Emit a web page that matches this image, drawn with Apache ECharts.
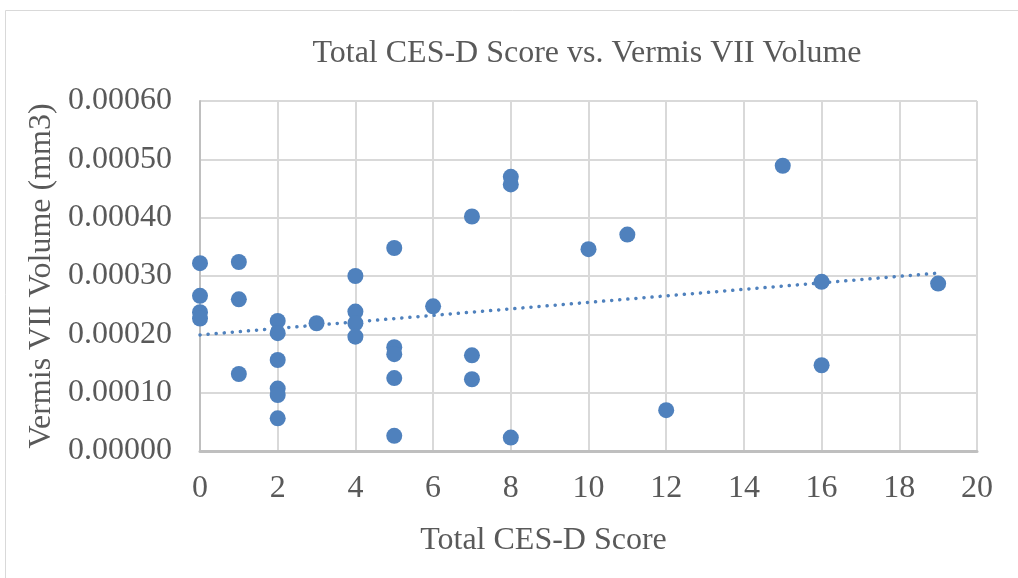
<!DOCTYPE html>
<html>
<head>
<meta charset="utf-8">
<script src="https://cdn.jsdelivr.net/npm/echarts@6/dist/echarts.min.js"></script>
<style>
  html, body { margin: 0; padding: 0; background: #fff; }
  #chart { width: 1018px; height: 578px; }
</style>
</head>
<body>
<div id="chart"></div>
<script>
// CES-D score vs Vermis VII volume (mm3)
const cesdScores = [0, 0, 0, 0, 1, 1, 1, 2, 2, 2, 2, 2, 2, 3, 4, 4, 4, 4, 5, 5, 5, 5, 5, 6, 7, 7, 7, 8, 8, 8, 10, 11, 12, 15, 16, 16, 19];
const vermisVolumes = [
  0.000322, 0.000266, 0.000238, 0.000227,
  0.000324, 0.000260, 0.000132,
  0.000223, 0.000202, 0.000156, 0.000107, 0.000096, 0.000056,
  0.000219,
  0.000300, 0.000239, 0.000219, 0.000196,
  0.000348, 0.000178, 0.000166, 0.000125, 0.000026,
  0.000248,
  0.000402, 0.000164, 0.000123,
  0.000470, 0.000457, 0.000023,
  0.000346, 0.000371, 0.000070, 0.000489, 0.000290, 0.000147, 0.000287
];
// dotted linear trendline, endpoints
const trendX = [0, 19];
const trendY = [0.000199, 0.000305];
const xTicks = [0, 2, 4, 6, 8, 10, 12, 14, 16, 18, 20];

const chart = echarts.init(document.getElementById('chart'));
const font = 'Liberation Serif, Times New Roman, serif';
const grey = '#595959';
const blue = '#4f81bd';

const points = cesdScores.map((x, i) => [x, vermisVolumes[i]]);
const trend = trendX.map((x, i) => [x, trendY[i]]);

chart.setOption({
  animation: false,
  backgroundColor: '#fff',
  title: {
    text: 'Total CES-D Score vs. Vermis VII Volume',
    left: 582,
    top: 33,
    textAlign: 'center',
    textStyle: { fontFamily: font, fontSize: 32, fontWeight: 'normal', color: grey }
  },
  graphic: [{
    type: 'rect',
    shape: { x: 5.5, y: 10.5, width: 1030, height: 600 },
    style: { fill: 'none', stroke: '#d9d9d9', lineWidth: 1 },
    silent: true
  }],
  grid: { left: 200, right: 41, top: 101, bottom: 127 },
  xAxis: {
    type: 'value',
    min: 0,
    max: 20,
    interval: 2,
    name: 'Total CES-D Score',
    nameLocation: 'middle',
    nameGap: 74,
    // the axis title sits left of the plot centre in the original
    nameTextStyle: { fontFamily: font, fontSize: 32, color: grey, padding: [0, 90, 0, 0] },
    axisLine: { show: true, lineStyle: { color: '#bfbfbf', width: 3 } },
    axisTick: { show: false },
    axisLabel: {
      fontFamily: font, fontSize: 32, color: grey, margin: 22,
      formatter: v => xTicks.includes(v) ? String(v) : ''
    },
    splitLine: { show: true, lineStyle: { color: '#d9d9d9', width: 2 } }
  },
  yAxis: {
    type: 'value',
    min: 0,
    max: 0.0006,
    interval: 0.0001,
    name: 'Vermis VII Volume (mm3)',
    nameLocation: 'middle',
    nameGap: 135,
    nameRotate: 90,
    nameTextStyle: { fontFamily: font, fontSize: 32, color: grey },
    axisLine: { show: true, lineStyle: { color: '#bfbfbf', width: 2 } },
    axisTick: { show: false },
    axisLabel: {
      fontFamily: font, fontSize: 32, color: grey, margin: 28,
      formatter: v => v.toFixed(5)
    },
    splitLine: { show: true, lineStyle: { color: '#d9d9d9', width: 2 } }
  },
  series: [
    {
      type: 'scatter',
      data: points,
      symbol: 'circle',
      symbolSize: 16,
      itemStyle: { color: blue, opacity: 1 },
      z: 3
    },
    {
      type: 'line',
      data: trend,
      symbol: 'none',
      lineStyle: { color: blue, width: 3.5, type: [0.1, 8], cap: 'round' },
      z: 2
    }
  ]
});
</script>
</body>
</html>
